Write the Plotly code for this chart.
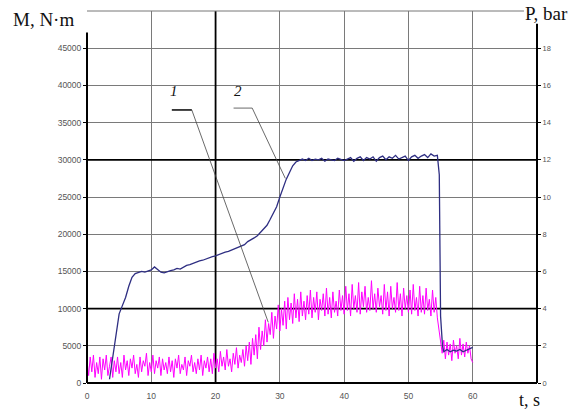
import plotly.graph_objects as go

# ---- data -------------------------------------------------------------
# Curve 2: torque M (N·m) vs time t (s)
t_m = [3.5, 4.0, 4.5, 5.0, 5.5, 6.0, 6.5, 7.0, 7.5, 8.0, 8.5, 9.0, 9.5, 10.0,
       10.5, 11.0, 11.5, 12.0, 12.5, 13.0, 13.5, 14.0, 14.5, 15.0, 15.5, 16.0,
       16.5, 17.0, 17.5, 18.0, 18.5, 19.0, 19.5, 20.0, 20.5, 21.0, 21.5, 22.0,
       22.5, 23.0, 23.5, 24.0, 24.5, 25.0, 25.5, 26.0, 26.5, 27.0, 27.5, 28.0,
       28.5, 29.0, 29.5, 30.0, 30.5, 31.0, 31.5, 32.0, 32.5, 33.0, 33.5, 34.0,
       34.5, 35.0, 35.5, 36.0, 36.5, 37.0, 37.5, 38.0, 38.5, 39.0, 39.5, 40.0,
       40.5, 41.0, 41.5, 42.0, 42.5, 43.0, 43.5, 44.0, 44.5, 45.0, 45.5, 46.0,
       46.5, 47.0, 47.5, 48.0, 48.5, 49.0, 49.5, 50.0, 50.5, 51.0, 51.5, 52.0,
       52.5, 53.0, 53.5, 54.0, 54.5, 54.8, 55.0, 55.3, 55.5, 56.0, 56.5, 57.0,
       57.5, 58.0, 58.5, 59.0, 59.5, 60.0]
m_torque = [500, 3500, 7000, 9300, 10400, 11500, 13000, 14200, 14700, 14800,
            15000, 14900, 15100, 15200, 15600, 15300, 14900, 14800, 15000, 15100,
            15200, 15400, 15300, 15600, 15800, 15900, 16100, 16200, 16400, 16500,
            16700, 16900, 17000, 17100, 17300, 17400, 17600, 17700, 17900, 18000,
            18200, 18400, 18600, 19000, 19200, 19500, 19800, 20300, 20700, 21200,
            22000, 22800, 23700, 25000, 26300, 27400, 28300, 29200, 29700, 29900,
            30100, 29900, 30200, 29900, 30100, 30000, 30200, 29800, 30100, 30000,
            29900, 30200, 30000, 29900, 30100, 30300, 29800, 30200, 30400, 29900,
            30300, 30100, 30400, 29800, 30300, 30500, 30000, 30400, 30200, 30600,
            30100, 30300, 30500, 29900, 30400, 30600, 30200, 30500, 30700, 30300,
            30800, 30500, 30600, 28000, 9000, 5000, 4200, 4500, 4200, 4400,
            4300, 4500, 4200, 4400, 4600, 4800]

# Curve 1: pressure P (bar), sampled every 0.25 s from 0 to 60 s
t_p = [i * 0.25 for i in range(241)]
p_bar = [
    1.2, 0.4, 1.4, 0.6, 1.5, 0.3, 1.1, 0.5, 1.4, 0.2, 1.3, 0.7, 1.5, 0.4, 0.9, 1.4, 0.3, 1.2, 0.6, 1.4,
    0.5, 1.1, 0.3, 1.5, 0.7, 1.2, 0.4, 1.3, 0.8, 1.5, 0.5, 1.0, 0.3, 1.4, 0.6, 1.2, 0.9, 1.6, 0.4, 1.1,
    0.6, 1.5, 0.5, 1.2, 0.8, 1.4, 0.4, 1.3, 0.7, 1.1, 0.5, 1.4, 0.6, 1.2, 0.3, 1.3, 0.8, 1.5, 0.5, 1.0,
    0.7, 1.4, 0.4, 1.2, 0.9, 1.5, 0.6, 1.1, 0.5, 1.3, 0.7, 1.5, 0.4, 1.2, 0.8, 1.4, 0.6, 1.3, 0.5, 1.6,
    0.8, 1.3, 0.6, 1.7, 0.9, 1.4, 0.7, 1.8, 0.9, 1.3, 0.6, 1.6, 1.0, 1.9, 0.8, 1.5, 1.1, 1.8, 0.9, 2.0,
    1.2, 2.2, 1.0, 2.4, 1.5, 2.6, 1.3, 3.0, 1.8, 2.8, 2.0, 3.4, 2.2, 3.2, 2.6, 3.8, 2.4, 3.6, 2.9, 4.2,
    2.8, 4.0, 3.1, 4.4, 2.9, 4.6, 3.4, 4.3, 3.2, 4.8, 3.5, 4.5, 3.3, 4.9, 3.6, 4.4, 3.4, 4.7, 3.7, 5.0,
    3.5, 4.6, 3.8, 4.9, 3.4, 4.5, 3.9, 4.8, 3.6, 5.1, 3.7, 4.6, 3.5, 4.9, 3.8, 4.4, 3.6, 5.0, 3.9, 4.7,
    3.7, 5.2, 3.9, 4.8, 3.6, 5.3, 4.0, 4.7, 3.8, 5.4, 3.7, 4.9, 4.1, 5.2, 3.8, 4.6, 3.9, 5.5, 4.0, 4.8,
    3.8, 5.1, 4.1, 4.7, 3.7, 5.3, 3.9, 4.9, 3.6, 5.2, 4.0, 4.6, 3.8, 5.4, 3.9, 4.8, 3.6, 5.1, 4.0, 4.7,
    3.8, 5.0, 3.7, 5.3, 3.9, 4.6, 3.6, 5.2, 3.8, 4.7, 3.7, 5.1, 3.9, 4.5, 3.6, 5.0, 3.8, 4.6, 3.5, 2.8,
    2.4, 1.6, 2.3, 1.3, 2.2, 1.5, 2.1, 1.2, 2.3, 1.6, 2.0, 1.3, 2.4, 1.5, 2.1, 1.4, 2.2, 1.6, 2.0, 1.3,
    1.1,
]

# Axis ticks
t_ticks = [0, 10, 20, 30, 40, 50, 60]
m_ticks = [0, 5000, 10000, 15000, 20000, 25000, 30000, 35000, 40000, 45000]
p_ticks = [0, 2, 4, 6, 8, 10, 12, 14, 16, 18]
bold_p_lines = [4, 12]      # same grid rows as M = 10000 and 30000
bold_t_lines = [20]

# Leader lines for curve labels (t, M)
leader1_t = [13.2, 16.3, 28.2]
leader1_m = [36700, 36700, 8150]
leader2_t = [22.8, 25.7, 30.85]
leader2_m = [36950, 36950, 27500]
labels_text = ["<i>1</i>", "<i>2</i>"]
labels_t = [13.6, 23.5]
labels_m = [39300, 39300]

# ---- figure -----------------------------------------------------------
fig = go.Figure()

fig.add_trace(go.Scatter(x=t_p, y=p_bar, mode="lines", yaxis="y",
                         line=dict(color="#ff00ff", width=1), showlegend=False))
fig.add_trace(go.Scatter(x=t_m, y=m_torque, mode="lines", yaxis="y2",
                         line=dict(color="#2e2e82", width=1.3), showlegend=False))
fig.add_trace(go.Scatter(x=leader1_t, y=leader1_m, mode="lines", yaxis="y2",
                         line=dict(color="#444444", width=0.8), showlegend=False))
fig.add_trace(go.Scatter(x=leader2_t, y=leader2_m, mode="lines", yaxis="y2",
                         line=dict(color="#444444", width=0.8), showlegend=False))
fig.add_trace(go.Scatter(x=leader1_t[:2], y=leader1_m[:2], mode="lines", yaxis="y2",
                         line=dict(color="#111111", width=1.4), showlegend=False))

shapes = []
for v in bold_p_lines:
    shapes.append(dict(type="line", xref="x", yref="y", x0=0, x1=70, y0=v, y1=v,
                       line=dict(color="#000000", width=1.8), layer="between"))
for v in bold_t_lines:
    shapes.append(dict(type="line", xref="x", yref="y", x0=v, x1=v, y0=0, y1=20,
                       line=dict(color="#000000", width=1.8), layer="between"))
# axis frame pieces (paper refs so they are not clipped)
shapes.append(dict(type="line", xref="paper", yref="paper", x0=0, x1=0.971, y0=1, y1=1,
                   line=dict(color="#777777", width=1)))
shapes.append(dict(type="line", xref="paper", yref="paper", x0=0, x1=0, y0=0, y1=0.942,
                   line=dict(color="#000000", width=2)))
shapes.append(dict(type="line", xref="paper", yref="paper", x0=1, x1=1, y0=0, y1=0.966,
                   line=dict(color="#000000", width=2)))
shapes.append(dict(type="line", xref="paper", yref="paper", x0=0, x1=1, y0=0, y1=0,
                   line=dict(color="#000000", width=2)))

annotations = []
for txt, tx, my in zip(labels_text, labels_t, labels_m):
    annotations.append(dict(x=tx, y=my, xref="x", yref="y2", text=txt, showarrow=False,
                            font=dict(family="Liberation Serif", size=15, color="#111"),
                            xanchor="center", yanchor="middle"))
annotations.append(dict(x=-0.168, y=0.976, xref="paper", yref="paper", text="M, N·m",
                        showarrow=False, xanchor="left", yanchor="middle",
                        font=dict(family="Liberation Serif", size=19, color="#111")))
annotations.append(dict(x=0.969, y=0.993, xref="paper", yref="paper", text="P, bar",
                        showarrow=False, xanchor="left", yanchor="middle",
                        font=dict(family="Liberation Serif", size=19, color="#111")))
annotations.append(dict(x=0.955, y=-0.047, xref="paper", yref="paper", text="t, s",
                        showarrow=False, xanchor="left", yanchor="middle",
                        font=dict(family="Liberation Serif", size=18, color="#111")))

tickfont = dict(family="Liberation Sans", size=8.5, color="#555555")

fig.update_layout(
    width=584, height=411,
    margin=dict(l=87, r=47, t=11, b=28),
    paper_bgcolor="white", plot_bgcolor="white",
    showlegend=False,
    shapes=shapes,
    annotations=annotations,
    xaxis=dict(range=[0, 70], tickvals=t_ticks, showgrid=True, gridcolor="#7a7a7a",
               gridwidth=1, zeroline=False, showline=False, ticks="",
               tickfont=tickfont, ticklabelstandoff=6),
    yaxis=dict(range=[0, 20], tickvals=p_ticks, side="right", showgrid=True,
               gridcolor="#7a7a7a", gridwidth=1, zeroline=False, showline=False,
               ticks="outside", ticklen=3, tickcolor="#000",
               tickfont=dict(family="Liberation Sans", size=7.5, color="#555555")),
    yaxis2=dict(range=[0, 50000], tickvals=m_ticks, tickformat="d", side="left",
                overlaying="y", showgrid=False, zeroline=False, showline=False,
                ticks="outside", ticklen=3, tickcolor="#000", tickfont=tickfont),
)

fig.write_html("out.html", config={"displayModeBar": False},
               post_script="document.body.style.margin='0';document.body.style.overflow='hidden';")
